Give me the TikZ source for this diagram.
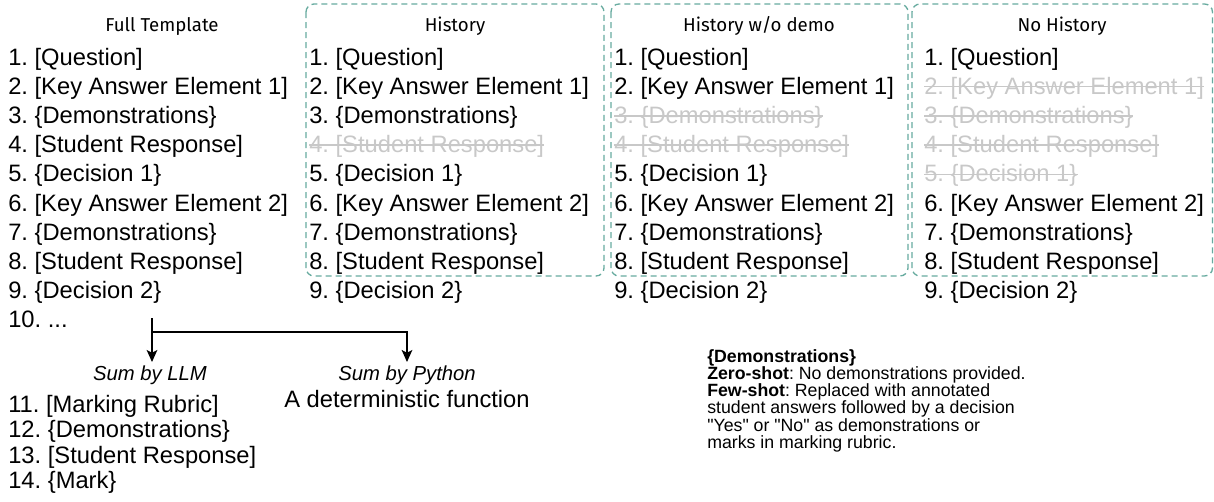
\documentclass[tikz,border=0pt]{standalone}
\usepackage{fontspec}
\setmainfont{Liberation Sans}
\newfontfamily\titlefont{Fira Sans}
\usetikzlibrary{arrows.meta}
\definecolor{boxc}{RGB}{103,171,159}
\definecolor{ghostc}{RGB}{200,200,200}
\newcommand\gh[1]{\textcolor{ghostc}{#1}}
\frenchspacing
\begin{document}
\begin{tikzpicture}[x=0.75pt,y=-0.75pt,
  item/.style={anchor=base west, inner sep=0pt, font=\fontsize{17.8pt}{21pt}\selectfont},
  ttl/.style={anchor=base, inner sep=0pt, font=\titlefont\fontsize{14pt}{16pt}\selectfont},
  sumlbl/.style={anchor=base, inner sep=0pt, font=\itshape\fontsize{15.2pt}{18pt}\selectfont},
  note/.style={anchor=base west, inner sep=0pt, font=\fontsize{13.3pt}{15pt}\selectfont},
  grp/.style={draw=boxc, line width=1pt, dash pattern=on 4.5pt off 3pt, rounded corners=6pt},
  strike/.style={draw=ghostc, line width=1pt},
  conn/.style={draw=black, line width=1pt},
  arr/.style={conn, -{Stealth[length=9pt,width=8pt,inset=2pt]}}]
\useasboundingbox (0,0) rectangle (1214,501);
% group boxes
\draw[grp] (306,4) rectangle (604,276);
\draw[grp] (611,4) rectangle (908,276);
\draw[grp] (912,4) rectangle (1212.5,276);
% titles
\node[ttl] (t1) at (162,31) {Full Template};
\node[ttl] (t2) at (455,31) {History};
\node[ttl] (t3) at (759,31) {History w/o demo};
\node[ttl] (t4) at (1062,31) {No History};
% column 1
\foreach \t [count=\i] in {{1. [Question]},{2. [Key Answer Element 1]},{3. \{Demonstrations\}},{4. [Student Response]},{5. \{Decision 1\}},{6. [Key Answer Element 2]},{7. \{Demonstrations\}},{8. [Student Response]},{9. \{Decision 2\}}}
  \node[item] (a\i) at (8,{65+29.2*(\i-1)}) {\t};
\node[item] (a10) at (8,{65+29.2*9}) {10. ...};
% column 2
\foreach \t [count=\i] in {{1. [Question]},{2. [Key Answer Element 1]},{3. \{Demonstrations\}},{\gh{4. [Student Response]}},{5. \{Decision 1\}},{6. [Key Answer Element 2]},{7. \{Demonstrations\}},{8. [Student Response]},{9. \{Decision 2\}}}
  \node[item] (b\i) at (309,{65+29.2*(\i-1)}) {\t};
% column 3
\foreach \t [count=\i] in {{1. [Question]},{2. [Key Answer Element 1]},{\gh{3. \{Demonstrations\}}},{\gh{4. [Student Response]}},{5. \{Decision 1\}},{6. [Key Answer Element 2]},{7. \{Demonstrations\}},{8. [Student Response]},{9. \{Decision 2\}}}
  \node[item] (c\i) at (614,{65+29.2*(\i-1)}) {\t};
% column 4
\foreach \t [count=\i] in {{1. [Question]},{\gh{2. [Key Answer Element 1]}},{\gh{3. \{Demonstrations\}}},{\gh{4. [Student Response]}},{\gh{5. \{Decision 1\}}},{6. [Key Answer Element 2]},{7. \{Demonstrations\}},{8. [Student Response]},{9. \{Decision 2\}}}
  \node[item] (d\i) at (924,{65+29.2*(\i-1)}) {\t};
% strike-through lines
\foreach \n in {b4,c3,c4,d2,d3,d4,d5}
  \draw[strike] ([yshift=5.6pt]\n.base west) -- ([yshift=5.6pt]\n.base east);
% split arrows
\coordinate (top) at (152,318);
\coordinate (split) at (152,332);
\coordinate (rturn) at (407,332);
\node[sumlbl] (llm) at (150,380) {Sum by LLM};
\node[sumlbl] (py) at (407,380) {Sum by Python};
\coordinate (llmtip) at (152,362);
\coordinate (pytip) at (407,362);
\draw[arr] (top) -- (llmtip);
\draw[arr] (split) -- (rturn) -- (pytip);
\node[item, anchor=base] (det) at (407,407) {A deterministic function};
% lower list
\foreach \t [count=\i] in {{11. [Marking Rubric]},{12. \{Demonstrations\}},{13. [Student Response]},{14. \{Mark\}}}
  \node[item] (e\i) at (8,{412+25.5*(\i-1)}) {\t};
% note
\node[note] (n1) at (707,362) {\textbf{\{Demonstrations\}}};
\node[note] (n2) at (707,379.3) {\textbf{Zero-shot}: No demonstrations provided.};
\node[note] (n3) at (707,396.6) {\textbf{Few-shot}: Replaced with annotated};
\node[note] (n4) at (707,413.9) {student answers followed by a decision};
\node[note] (n5) at (707,431.2) {\textquotedbl Yes\textquotedbl{} or \textquotedbl No\textquotedbl{} as demonstrations or};
\node[note] (n6) at (707,448.5) {marks in marking rubric.};
\end{tikzpicture}
\end{document}
